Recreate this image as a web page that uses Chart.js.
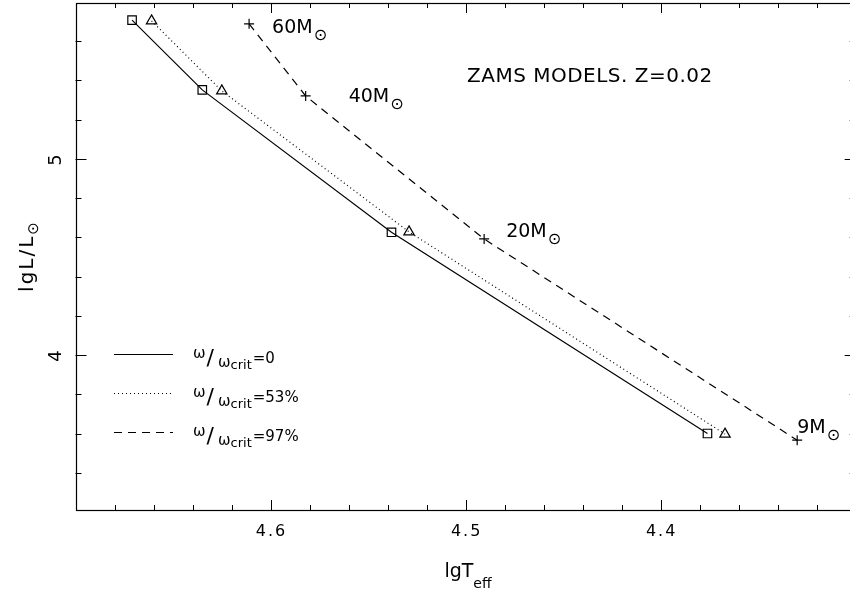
<!DOCTYPE html>
<html>
<head>
<meta charset="utf-8">
<script src="https://cdn.jsdelivr.net/npm/chart.js@4.4.1/dist/chart.umd.min.js"></script>
<style>
  html, body { margin: 0; padding: 0; background: #fff; overflow: hidden; }
  /* the frame runs past the right edge of the window, as in the original plot */
  #wrap { width: 862px; height: 597px; position: relative; }
</style>
</head>
<body>
<div id="wrap"><canvas id="zams"></canvas></div>
<script>
// ZAMS models, Z=0.02 : lg Teff against lg L/Lsun for three rotation rates
var masses = ["60", "40", "20", "9"];
var lgTeff0 = [4.671, 4.635, 4.538, 4.376];
var lgL0 = [5.708, 5.352, 4.626, 3.600];
var lgTeff53 = [4.661, 4.625, 4.529, 4.367];
var lgL53 = [5.704, 5.347, 4.628, 3.597];
var lgTeff97 = [4.611, 4.582, 4.4905, 4.330];
var lgL97 = [5.689, 5.321, 4.592, 3.566];
var xTickLabels = [4.6, 4.5, 4.4];
var yTickLabels = [4, 5];
var legendRates = ["0", "53%", "97%"];

var FONT = '"DejaVu Sans"';

function toPoints(xs, ys) {
  return xs.map(function (x, i) { return { x: x, y: ys[i] }; });
}

function rich(ctx, x, y, parts) {
  parts.forEach(function (p) {
    ctx.font = p.s + 'px ' + FONT;
    ctx.fillText(p.t, x, y + (p.dy || 0));
    x += ctx.measureText(p.t).width + (p.gap || 0);
  });
  return x;
}

function richWidth(ctx, parts) {
  var w = 0;
  parts.forEach(function (p) {
    ctx.font = p.s + 'px ' + FONT;
    w += ctx.measureText(p.t).width + (p.gap || 0);
  });
  return w;
}

// frame, inward ticks, labels and annotations
var decor = {
  id: 'decor',
  afterDraw: function (chart) {
    var ctx = chart.ctx, a = chart.chartArea;
    var xs = chart.scales.x, ys = chart.scales.y;
    ctx.save();
    ctx.strokeStyle = '#000';
    ctx.fillStyle = '#000';
    ctx.lineWidth = 1.2;
    ctx.setLineDash([]);
    ctx.strokeRect(Math.round(a.left) + 0.5, Math.round(a.top) + 0.5,
      Math.round(a.right - a.left), Math.round(a.bottom - a.top));

    ctx.lineWidth = 1;
    ctx.beginPath();
    for (var i = 0; i <= 20; i++) {
      var v = 4.30 + i * 0.02;
      var px = Math.round(xs.getPixelForValue(v)) + 0.5;
      var len = (i % 5 === 0) ? 10 : 5;
      ctx.moveTo(px, a.bottom); ctx.lineTo(px, a.bottom - len);
      ctx.moveTo(px, a.top); ctx.lineTo(px, a.top + len);
    }
    for (var j = 0; j <= 13; j++) {
      var w = 3.2 + j * 0.2;
      if (w < ys.min || w > ys.max) continue;
      var py = Math.round(ys.getPixelForValue(w)) + 0.5;
      var major = Math.abs(w - Math.round(w)) < 1e-6;
      var l2 = major ? 11 : 6;
      ctx.moveTo(a.left, py); ctx.lineTo(a.left + l2, py);
      ctx.moveTo(a.right, py); ctx.lineTo(a.right - l2, py);
    }
    ctx.stroke();

    // tick labels
    ctx.textBaseline = 'alphabetic';
    ctx.textAlign = 'center';
    ctx.font = '16px ' + FONT;
    ctx.letterSpacing = '2px';
    xTickLabels.forEach(function (t) {
      ctx.fillText(t.toFixed(1), xs.getPixelForValue(t) + 1, 536);
    });
    ctx.font = '18px ' + FONT;
    ctx.letterSpacing = '0px';
    yTickLabels.forEach(function (t) {
      ctx.save();
      ctx.translate(61, ys.getPixelForValue(t) + 1);
      ctx.rotate(-Math.PI / 2);
      ctx.fillText(String(t), 0, 0);
      ctx.restore();
    });

    // axis titles
    ctx.textAlign = 'left';
    var xt = [{ t: 'lgT', s: 19 }, { t: 'eff', s: 14, dy: 11 }];
    var xw = richWidth(ctx, xt);
    rich(ctx, 468 - xw / 2, 577, xt);

    ctx.save();
    ctx.translate(33, 256);
    ctx.rotate(-Math.PI / 2);
    ctx.letterSpacing = '2px';
    var yt = [{ t: 'lgL/L', s: 20 }, { t: '\u2299', s: 15, dy: 5 }];
    var yw = richWidth(ctx, yt);
    rich(ctx, -yw / 2, 0, yt);
    ctx.restore();
    ctx.letterSpacing = '0px';

    // title text
    ctx.font = '20px ' + FONT;
    ctx.letterSpacing = '0.5px';
    ctx.fillText('ZAMS MODELS. Z=0.02', 467, 82);
    ctx.letterSpacing = '0px';

    // mass labels next to the fastest-rotating track
    var offs = [[23, 9], [43, 6], [22, -2], [0, -7]];
    masses.forEach(function (m, k) {
      var px = xs.getPixelForValue(lgTeff97[k]) + offs[k][0];
      var py = ys.getPixelForValue(lgL97[k]) + offs[k][1];
      rich(ctx, px, py, [{ t: m + 'M', s: 19, gap: 1 }, { t: '\u2299', s: 16, dy: 7 }]);
    });

    // legend
    var dashes = [[], [1, 3], [8, 6]];
    legendRates.forEach(function (r, k) {
      var ly = 354 + k * 39;
      ctx.beginPath();
      ctx.setLineDash(dashes[k]);
      ctx.lineWidth = 1.2;
      ctx.moveTo(114, ly + 0.5); ctx.lineTo(173, ly + 0.5);
      ctx.stroke();
      ctx.setLineDash([]);
      rich(ctx, 193, ly + 9, [
        { t: '\u03c9', s: 15, dy: -5, gap: 1 },
        { t: '/', s: 22, dy: 2, gap: 4 },
        { t: '\u03c9', s: 15, dy: 4 },
        { t: 'crit', s: 13, dy: 6, gap: 1 },
        { t: '=' + r, s: 15 }
      ]);
    });
    ctx.restore();
  }
};

new Chart(document.getElementById('zams'), {
  type: 'scatter',
  data: {
    datasets: [{
      label: 'w/wcrit=0',
      data: toPoints(lgTeff0, lgL0),
      showLine: true,
      borderColor: '#000',
      borderWidth: 1.2,
      pointStyle: 'rect',
      pointRadius: 6,
      pointBorderWidth: 1.2,
      pointBorderColor: '#000',
      pointBackgroundColor: 'rgba(0,0,0,0)'
    }, {
      label: 'w/wcrit=53%',
      data: toPoints(lgTeff53, lgL53),
      showLine: true,
      borderColor: '#000',
      borderWidth: 1.2,
      borderDash: [1, 3],
      pointStyle: 'triangle',
      pointRadius: 6,
      pointBorderWidth: 1.2,
      pointBorderColor: '#000',
      pointBackgroundColor: 'rgba(0,0,0,0)'
    }, {
      label: 'w/wcrit=97%',
      data: toPoints(lgTeff97, lgL97),
      showLine: true,
      borderColor: '#000',
      borderWidth: 1.2,
      borderDash: [8, 6],
      pointStyle: 'cross',
      pointRadius: 5,
      pointBorderWidth: 1.2,
      pointBorderColor: '#000'
    }]
  },
  options: {
    responsive: true,
    maintainAspectRatio: false,
    animation: false,
    events: [],
    layout: { autoPadding: false, padding: { left: 75.5, right: 6.3, top: 3, bottom: 87 } },
    plugins: {
      legend: { display: false },
      tooltip: { enabled: false }
    },
    scales: {
      x: { type: 'linear', reverse: true, min: 4.30, max: 4.70, display: false },
      y: { type: 'linear', min: 3.21, max: 5.795, display: false }
    }
  },
  plugins: [decor]
});
</script>
</body>
</html>
